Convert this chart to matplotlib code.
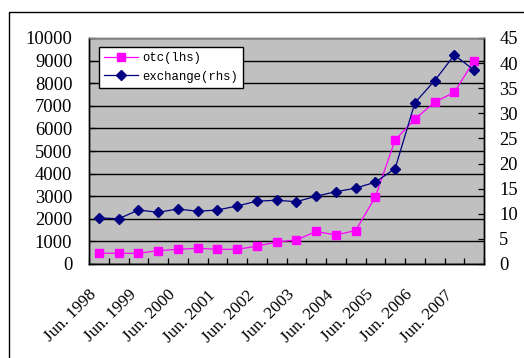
import matplotlib
matplotlib.use('Agg')
import matplotlib.pyplot as plt
import matplotlib.transforms as mtransforms
from matplotlib.lines import Line2D
import numpy as np

# half-yearly observations, Jun. 1998 .. Dec. 2007
periods = []
for yr in range(1998, 2008):
    periods += ['Jun. %d' % yr, 'Dec. %d' % yr]

otc = [480, 475, 475, 590, 650, 695, 650, 650, 790, 975,
       1060, 1440, 1285, 1480, 2970, 5490, 6410, 7160, 7600, 9000]
exchange = [9.2, 9.0, 10.75, 10.3, 10.95, 10.5, 10.75, 11.55, 12.5, 12.7,
            12.4, 13.5, 14.4, 15.1, 16.3, 19.0, 32.1, 36.5, 41.6, 38.6]

W, H = 524, 358
fig = plt.figure(figsize=(W / 100, H / 100), dpi=100)
ax = fig.add_axes([89 / W, 1 - 264 / H, 395 / W, 226 / H])
ax.set_facecolor('#c0c0c0')
ax2 = ax.twinx()

x = np.arange(len(periods))
l1, = ax.plot(x, otc, color='#ff00ff', marker='s', ms=5.5, lw=0.9,
              label='otc(lhs)', zorder=3)
l2, = ax2.plot(x, exchange, color='#000080', marker='D', ms=5, lw=0.9,
               label='exchange(rhs)', zorder=3)

ax.set_xlim(-0.5, len(periods) - 0.5)
ax.set_ylim(0, 10000)
ax.set_yticks(np.arange(0, 10001, 1000))
ax2.set_ylim(0, 45)
ax2.set_yticks(np.arange(0, 46, 5))

ax.grid(axis='y', color='black', lw=1.0)
ax.set_axisbelow(True)

serif = 'Liberation Serif'
# tick marks sit on category boundaries, labels on every other category
ax.set_xticks(np.arange(-0.5, len(periods), 1))
ax.set_xticklabels([])
ax.set_xticks(x[::2], minor=True)
ax.set_xticklabels(periods[::2], minor=True, rotation=45, ha='right', va='top',
                   rotation_mode='anchor', fontsize=12.3, family=serif)
ax.tick_params(axis='x', which='major', direction='in', length=4.5, width=0.9)
ax.tick_params(axis='x', which='minor', length=0, pad=0)
shift = mtransforms.ScaledTranslation(-10 / 100, -23 / 100, fig.dpi_scale_trans)
for lab in ax.get_xticklabels(minor=True):
    lab.set_transform(lab.get_transform() + shift)

ax.tick_params(axis='y', direction='in', length=4.5, width=0.9, pad=12,
               labelsize=13.3)
ax2.tick_params(axis='y', direction='in', length=4.5, width=0.9, pad=11,
                labelsize=13.3)
for lab in ax.get_yticklabels() + ax2.get_yticklabels():
    lab.set_family(serif)

for a in (ax, ax2):
    for side in ('left', 'right', 'bottom'):
        a.spines[side].set_color('black')
        a.spines[side].set_linewidth(1.0)
    a.spines['top'].set_color('#808080')
    a.spines['top'].set_linewidth(1.0)

leg = ax2.legend(handles=[l1, l2], loc='upper left',
                 bbox_to_anchor=(10 / 395, 1 - 9 / 226), borderaxespad=0,
                 prop={'family': 'Liberation Mono', 'size': 8.8},
                 handlelength=2.8, handletextpad=0.3, borderpad=0.4,
                 labelspacing=0.55, fancybox=False, framealpha=1,
                 edgecolor='black')
leg.get_frame().set_linewidth(1.0)

# chart border
fig.add_artist(Line2D([9 / W, 9 / W, 1], [0, 1 - 12 / H, 1 - 12 / H],
                      transform=fig.transFigure, color='black', lw=1.0))

fig.savefig('out.png', dpi=100)
